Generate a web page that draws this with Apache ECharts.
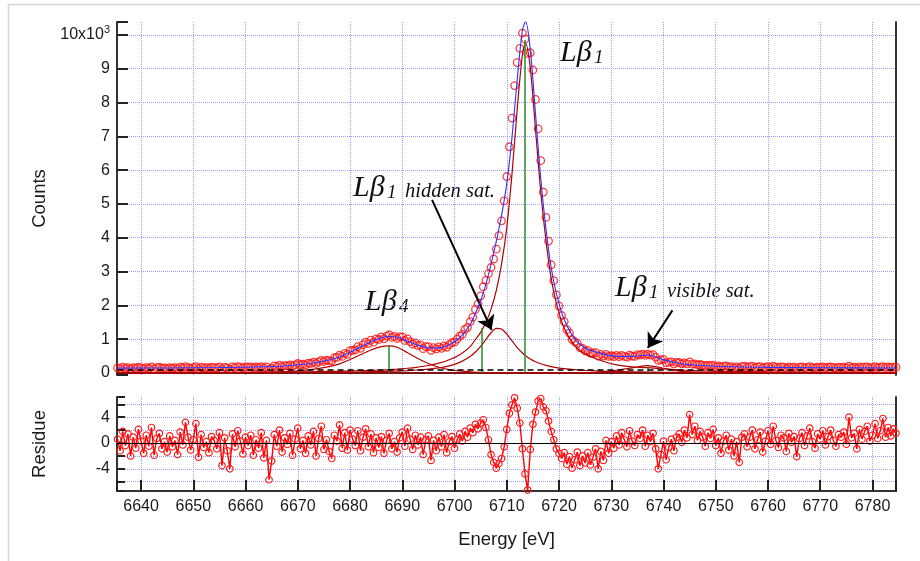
<!doctype html>
<html>
<head>
<meta charset="utf-8">
<title>L beta spectrum fit</title>
<script src="https://cdn.jsdelivr.net/npm/echarts@6.0.0/dist/echarts.min.js"></script>
</head>
<body style="margin:0; background:#fff">
<div id="container" style="width:920px; height:561px"></div>
<script>
// measured spectrum, 0.5 eV steps (counts in units of 10^3)
var energy = [
6635.5,6636,6636.5,6637,6637.5,6638,6638.5,6639,6639.5,6640,6640.5,6641,6641.5,6642,6642.5,6643,6643.5,6644,6644.5,6645,
6645.5,6646,6646.5,6647,6647.5,6648,6648.5,6649,6649.5,6650,6650.5,6651,6651.5,6652,6652.5,6653,6653.5,6654,6654.5,6655,
6655.5,6656,6656.5,6657,6657.5,6658,6658.5,6659,6659.5,6660,6660.5,6661,6661.5,6662,6662.5,6663,6663.5,6664,6664.5,6665,
6665.5,6666,6666.5,6667,6667.5,6668,6668.5,6669,6669.5,6670,6670.5,6671,6671.5,6672,6672.5,6673,6673.5,6674,6674.5,6675,
6675.5,6676,6676.5,6677,6677.5,6678,6678.5,6679,6679.5,6680,6680.5,6681,6681.5,6682,6682.5,6683,6683.5,6684,6684.5,6685,
6685.5,6686,6686.5,6687,6687.5,6688,6688.5,6689,6689.5,6690,6690.5,6691,6691.5,6692,6692.5,6693,6693.5,6694,6694.5,6695,
6695.5,6696,6696.5,6697,6697.5,6698,6698.5,6699,6699.5,6700,6700.5,6701,6701.5,6702,6702.5,6703,6703.5,6704,6704.5,6705,
6705.5,6706,6706.5,6707,6707.5,6708,6708.5,6709,6709.5,6710,6710.5,6711,6711.5,6712,6712.5,6713,6713.5,6714,6714.5,6715,
6715.5,6716,6716.5,6717,6717.5,6718,6718.5,6719,6719.5,6720,6720.5,6721,6721.5,6722,6722.5,6723,6723.5,6724,6724.5,6725,
6725.5,6726,6726.5,6727,6727.5,6728,6728.5,6729,6729.5,6730,6730.5,6731,6731.5,6732,6732.5,6733,6733.5,6734,6734.5,6735,
6735.5,6736,6736.5,6737,6737.5,6738,6738.5,6739,6739.5,6740,6740.5,6741,6741.5,6742,6742.5,6743,6743.5,6744,6744.5,6745,
6745.5,6746,6746.5,6747,6747.5,6748,6748.5,6749,6749.5,6750,6750.5,6751,6751.5,6752,6752.5,6753,6753.5,6754,6754.5,6755,
6755.5,6756,6756.5,6757,6757.5,6758,6758.5,6759,6759.5,6760,6760.5,6761,6761.5,6762,6762.5,6763,6763.5,6764,6764.5,6765,
6765.5,6766,6766.5,6767,6767.5,6768,6768.5,6769,6769.5,6770,6770.5,6771,6771.5,6772,6772.5,6773,6773.5,6774,6774.5,6775,
6775.5,6776,6776.5,6777,6777.5,6778,6778.5,6779,6779.5,6780,6780.5,6781,6781.5,6782,6782.5,6783,6783.5,6784,6784.5
];
var counts = [
.15,.13,.17,.14,.16,.12,.16,.14,.17,.15,.13,.16,.14,.18,.12,.16,.17,.14,.15,.13,
.16,.14,.16,.13,.17,.15,.19,.16,.14,.16,.19,.13,.17,.15,.16,.14,.17,.16,.15,.18,
.12,.17,.15,.11,.18,.16,.19,.17,.15,.18,.17,.18,.15,.18,.16,.19,.15,.18,.10,.14,
.21,.19,.23,.19,.22,.21,.24,.20,.24,.28,.24,.26,.24,.29,.28,.32,.28,.33,.37,.34,
.38,.36,.36,.45,.46,.53,.49,.58,.55,.66,.67,.68,.78,.73,.84,.91,.87,.97,.91,1.01,
.99,1.07,1.01,1.09,1.13,1.05,1.08,1.02,1.07,1.07,.96,1.01,.93,.85,.89,.81,.83,.72,.78,.78,
.67,.75,.71,.77,.73,.80,.76,.84,.90,.91,1.00,1.09,1.14,1.29,1.35,1.52,1.65,1.88,2.04,2.28,
2.55,2.74,2.94,3.12,3.37,3.66,4.06,4.50,5.09,5.81,6.69,7.54,8.50,9.18,9.60,10.05,9.88,9.45,9.47,8.96,
8.09,7.22,6.28,5.35,4.60,3.90,3.20,2.73,2.31,1.98,1.70,1.52,1.28,1.18,.99,.93,.88,.75,.73,.65,
.67,.59,.59,.60,.50,.55,.50,.55,.49,.51,.48,.52,.48,.52,.49,.47,.53,.50,.49,.54,
.53,.56,.52,.56,.53,.54,.47,.37,.39,.40,.30,.32,.33,.27,.31,.31,.27,.30,.27,.33,
.26,.27,.24,.25,.23,.21,.23,.22,.23,.19,.21,.17,.20,.21,.17,.19,.15,.18,.14,.19,
.20,.17,.19,.20,.16,.18,.19,.15,.17,.19,.16,.20,.17,.16,.18,.17,.14,.18,.16,.17,
.13,.17,.18,.15,.17,.19,.16,.15,.17,.16,.18,.15,.17,.18,.16,.15,.17,.16,.17,.15,
.20,.16,.17,.14,.18,.16,.17,.18,.15,.16,.19,.16,.17,.19,.16,.18,.16,.17,.17
];
var residue = [
0.6,-1.2,1.8,-0.4,1.4,-2.0,0.9,-0.8,2.1,0.3,-1.6,1.2,-0.5,2.4,-1.9,0.7,1.5,-0.9,0.2,-1.4,
1.1,-0.6,0.4,-1.8,1.7,-0.3,3.2,0.9,-1.1,0.5,3.0,-2.2,1.3,-0.7,0.2,-1.5,1.0,0.4,-0.9,1.6,
-3.5,0.8,-1.2,-4.0,1.4,-0.6,1.9,0.3,-1.7,0.9,-0.4,1.2,-1.9,0.5,-0.8,1.6,-2.3,0.4,-5.7,-2.8,
1.3,-0.5,2.0,-1.4,0.8,-0.2,1.5,-1.9,0.6,2.3,-0.9,0.4,-1.6,1.1,-0.3,1.8,-2.0,0.7,2.6,-1.0,
0.5,-1.3,-2.4,1.2,0.3,2.8,-0.8,1.6,-1.1,2.0,0.6,-0.4,1.9,-1.2,0.9,2.2,-0.6,1.4,-1.5,0.8,
-0.7,1.0,-1.6,0.4,1.5,-0.9,0.2,-1.4,0.8,1.7,-0.5,2.3,0.6,-1.0,1.2,-0.3,0.9,-1.8,0.5,1.1,
-2.7,0.4,-1.2,0.9,-0.6,1.3,-1.5,0.2,1.0,-0.8,0.5,1.4,0.3,1.8,0.9,2.3,1.6,2.9,2.2,3.1,
3.6,2.4,0.5,-1.8,-3.0,-3.9,-3.2,-2.4,-0.6,2.1,4.6,5.9,7.0,5.4,3.1,-0.9,-4.8,-7.3,-1.0,2.9,
4.8,6.5,6.9,5.6,5.0,3.4,1.8,0.5,-0.9,-1.6,-2.4,-1.5,-3.3,-2.1,-3.9,-2.6,-1.4,-3.5,-2.0,-3.1,
-1.5,-3.4,-2.2,-0.9,-4.0,-1.3,-2.7,0.4,-1.6,0.2,-0.8,1.1,-0.3,1.6,0.5,-0.6,1.9,0.3,-0.4,1.3,
0.7,2.0,-0.5,1.2,0.2,1.5,-0.9,-4.0,-1.8,0.3,-2.6,-0.7,0.6,-1.2,0.9,1.4,0.1,2.0,0.8,4.4,
1.3,2.6,0.4,1.8,0.9,-0.5,1.6,0.7,2.1,-0.4,0.8,-1.6,0.3,1.2,-1.1,0.6,-2.0,0.2,-3.0,0.9,
1.4,-0.6,0.9,2.0,-0.9,0.5,1.7,-1.4,0.3,1.9,-0.2,2.6,0.4,-0.7,1.2,0.8,-1.3,1.5,0.1,1.0,
-2.1,0.7,1.6,-0.4,1.1,2.3,0.2,-0.8,1.4,0.6,1.9,-0.3,1.0,2.0,0.4,-0.5,1.3,0.9,1.7,-0.2,
4.0,0.8,1.5,-0.9,2.1,0.6,1.8,2.6,0.3,1.2,3.0,0.7,1.9,3.8,0.9,2.4,1.1,2.2,1.5
];

// fit curve and its components
var compE = [6635.5,6645,6655,6662,6668,6672,6676,6678,6680,6682,6684,6686,6687.5,6689,6691,6693,6695,6697,6699,6701,
  6703,6704,6705,6706,6707,6708,6709,6710,6711,6712,6713,6713.6,6714.5,6715.5,6716.5,6717.5,6718.5,6719.5,6721,6723,
  6725,6728,6731,6734,6737,6740,6744,6750,6760,6770,6784.5];
var fitTotal = [.144,.149,.161,.175,.214,.273,.386,.474,.614,.766,.922,1.041,1.079,1.062,.94,.823,.744,.742,.832,1.042,
  1.432,1.764,2.136,2.623,3.22,3.898,4.656,5.6,6.96,8.68,10.14,10.39,9.57,7.67,5.76,4.27,3.12,2.35,1.58,1.01,
  .74,.58,.49,.49,.53,.39,.26,.20,.166,.154,.145];
var compMain = [.010,.013,.018,.023,.030,.036,.045,.050,.057,.065,.075,.088,.100,.115,.14,.175,.22,.29,.39,.54,
  .78,.99,1.20,1.49,1.89,2.44,3.22,4.30,5.88,7.80,9.42,9.75,9.03,7.21,5.36,3.92,2.80,2.06,1.32,.81,
  .56,.37,.24,.18,.16,.12,.08,.05,.03,.02,.012];
var compHidden = [.004,.0055,.008,.010,.014,.017,.021,.024,.027,.031,.037,.043,.049,.057,.07,.088,.114,.152,.212,.312,
  .487,.619,.788,.99,1.19,1.32,1.30,1.15,.95,.75,.59,.51,.414,.333,.271,.224,.188,.16,.127,.097,
  .076,.056,.042,.033,.027,.022,.017,.013,.008,.006,.004];
var compB4 = [0,0,.005,.012,.04,.09,.19,.27,.40,.54,.68,.78,.80,.76,.60,.43,.28,.17,.10,.06,
  .035,.025,.018,.013,.01,.008,.006,.005,.004,.003,.002,.002,.001,0,0,0,0,0,0,0,
  0,0,0,0,0,0,0,0,0,0,0];
var compVisible = [0,0,0,0,0,0,0,0,0,0,0,0,0,0,0,0,0,0,0,0,
  0,0,0,0,0,0,0,0,0,0,0,0,0,0,0,0,0,0,0,0,
  .005,.03,.08,.15,.22,.14,.04,.01,0,0,0];
var baseE = [6635.5, 6784.5];
var baseC = [0.09, 0.09];

// line positions (sticks) and arrows
var stickE = [6687.5, 6705.2, 6713.5, 6737.0];
var stickH = [0.80, 1.33, 9.85, 0.20];
var arrowFrom = [[6695.7, 5.12], [6741.7, 1.85]];
var arrowTo = [[6707.1, 1.27], [6737.0, 0.74]];

function pairs(xs, ys) {
  return xs.map(function (x, i) { return [x, ys[i]]; });
}

var sans = '"Liberation Sans", Arial, sans-serif';
var serif = '"Liberation Serif", "Times New Roman", serif';
var gridLine = { show: true, showMinLine: false, showMaxLine: false,
  lineStyle: { color: '#9a9aff', type: 'dotted', width: 1 } };
var frameLine = { show: true, lineStyle: { color: '#333', width: 2 } };
var compColor = '#b40000';

var dom = document.getElementById('container');
var myChart = echarts.init(dom, null, { renderer: 'canvas' });

function compSeries(vals) {
  return {
    type: 'line', xAxisIndex: 0, yAxisIndex: 0,
    data: pairs(compE, vals), showSymbol: false, smooth: 0.3,
    lineStyle: { color: compColor, width: 1.2 }, silent: true, z: 4
  };
}

var sticks = stickE.map(function (e, i) {
  return [{ coord: [e, 0] }, { coord: [e, stickH[i]] }];
});
var arrows = arrowFrom.map(function (p, i) {
  return [{ coord: p }, { coord: arrowTo[i] }];
});

function betaText(x, base, sub, tail) {
  var els = [
    { type: 'text', x: x, y: base - 10, silent: true,
      style: { text: 'Lβ', font: 'italic 30px ' + serif, fill: '#111', verticalAlign: 'middle' } },
    { type: 'text', x: x + 34, y: base - 5, silent: true,
      style: { text: sub, font: 'italic 19px ' + serif, fill: '#111', verticalAlign: 'middle' } }
  ];
  if (tail) {
    els.push({ type: 'text', x: x + 52, y: base - 6, silent: true,
      style: { text: tail, font: 'italic 20.5px ' + serif, fill: '#111', verticalAlign: 'middle' } });
  }
  return els;
}

var option = {
  animation: false,
  backgroundColor: '#fff',
  grid: [
    { left: 117, top: 22, width: 779, height: 353 },
    { left: 117, top: 397, width: 779, height: 94 }
  ],
  xAxis: [
    { type: 'value', gridIndex: 0, min: 6635.4, max: 6784.5, splitNumber: 15,
      axisLine: { show: false }, axisTick: { show: false }, axisLabel: { show: false },
      splitLine: gridLine },
    { type: 'value', gridIndex: 0, position: 'top', min: 6635.4, max: 6784.5,
      axisLine: frameLine, axisTick: { show: false }, axisLabel: { show: false }, splitLine: { show: false } },
    { type: 'value', gridIndex: 1, min: 6635.4, max: 6784.5, splitNumber: 15,
      axisLine: { show: true, onZero: false, lineStyle: { color: '#333', width: 2 } },
      axisTick: { show: true, inside: true, length: 11, lineStyle: { color: '#222', width: 2 } },
      axisLabel: { margin: 8, fontFamily: sans, fontSize: 16, color: '#1a1a1a',
        formatter: function (v) { return Math.abs(v % 10) < 1e-6 ? String(v) : ''; } },
      splitLine: gridLine,
      name: 'Energy [eV]', nameLocation: 'middle', nameGap: 39,
      nameTextStyle: { fontFamily: sans, fontSize: 18.5, color: '#1a1a1a' } }
  ],
  yAxis: [
    { type: 'value', gridIndex: 0, min: -0.06, max: 10.38, splitNumber: 10,
      axisLine: { show: true, onZero: false, lineStyle: { color: '#333', width: 2 } },
      axisTick: { show: true, inside: true, length: 11, lineStyle: { color: '#222', width: 2 } },
      axisLabel: { margin: 7, fontFamily: sans, fontSize: 16, color: '#1a1a1a',
        formatter: function (v) {
          if (Math.abs(v - 10) < 1e-6) return '10x10{s|3}';
          if (v > -0.01 && v < 9.99 && Math.abs(v - Math.round(v)) < 1e-6) return String(Math.round(v));
          return '';
        },
        rich: { s: { fontFamily: sans, fontSize: 11, color: '#1a1a1a', padding: [0, 0, 9, 0] } } },
      splitLine: gridLine,
      name: 'Counts', nameLocation: 'middle', nameGap: 68, nameRotate: 90,
      nameTextStyle: { fontFamily: sans, fontSize: 18.5, color: '#1a1a1a' } },
    { type: 'value', gridIndex: 0, position: 'right', min: -0.06, max: 10.38,
      axisLine: frameLine, axisTick: { show: false }, axisLabel: { show: false }, splitLine: { show: false } },
    { type: 'value', gridIndex: 1, min: -7.44, max: 7.13, splitNumber: 7,
      axisLine: { show: true, onZero: false, lineStyle: { color: '#333', width: 2 } },
      axisTick: { show: true, inside: true, length: 8, lineStyle: { color: '#222', width: 2 } },
      axisLabel: { margin: 7, fontFamily: sans, fontSize: 16, color: '#1a1a1a',
        formatter: function (v) {
          return (Math.abs(v - 4) < 1e-6 || Math.abs(v) < 1e-6 || Math.abs(v + 4) < 1e-6) ? String(Math.round(v)) : '';
        } },
      splitLine: gridLine,
      name: 'Residue', nameLocation: 'middle', nameGap: 68, nameRotate: 90,
      nameTextStyle: { fontFamily: sans, fontSize: 18.5, color: '#1a1a1a' } },
    { type: 'value', gridIndex: 1, position: 'right', min: -7.44, max: 7.13,
      axisLine: frameLine, axisTick: { show: false }, axisLabel: { show: false }, splitLine: { show: false } }
  ],
  series: [
    { name: 'data', type: 'scatter', xAxisIndex: 0, yAxisIndex: 0,
      data: pairs(energy, counts), symbol: 'circle', symbolSize: 7.5, silent: true, z: 2,
      itemStyle: { color: 'rgba(255,0,0,0)', borderColor: '#ff1010', borderWidth: 1.3 } },
    { name: 'fit', type: 'line', xAxisIndex: 0, yAxisIndex: 0,
      data: pairs(compE, fitTotal), showSymbol: false, smooth: 0.3, silent: true, z: 5,
      lineStyle: { color: '#3030ff', width: 1.1 } },
    compSeries(compMain),
    compSeries(compHidden),
    compSeries(compB4),
    compSeries(compVisible),
    { name: 'baseline', type: 'line', xAxisIndex: 0, yAxisIndex: 0,
      data: pairs(baseE, baseC), showSymbol: false, silent: true, z: 6,
      lineStyle: { color: '#000', width: 1.5, type: [6, 4] } },
    { name: 'marks', type: 'line', xAxisIndex: 0, yAxisIndex: 0, data: [], z: 7,
      markLine: { silent: true, animation: false, symbol: ['none', 'none'], label: { show: false },
        lineStyle: { color: '#2a8a2a', width: 1.5, type: 'solid' }, data: sticks } },
    { name: 'arrows', type: 'line', xAxisIndex: 0, yAxisIndex: 0, data: [], z: 8,
      markLine: { silent: true, animation: false, symbol: ['none', 'arrow'], symbolSize: 14,
        label: { show: false }, lineStyle: { color: '#000', width: 2, type: 'solid' }, data: arrows } },
    { name: 'residue', type: 'line', xAxisIndex: 2, yAxisIndex: 2,
      data: pairs(energy, residue), symbol: 'circle', symbolSize: 6.5, showSymbol: true, silent: true,
      lineStyle: { color: '#ff0000', width: 1.4 },
      itemStyle: { color: 'rgba(255,0,0,0)', borderColor: '#ff1a1a', borderWidth: 1.2 },
      markLine: { silent: true, animation: false, symbol: ['none', 'none'], label: { show: false },
        lineStyle: { color: '#000', width: 1, type: 'solid' }, data: [{ yAxis: 0 }] } }
  ],
  graphic: [
    { type: 'rect', silent: true, shape: { x: 8.5, y: 4.5, width: 940, height: 600 },
      style: { fill: 'none', stroke: '#d6d6d6', lineWidth: 1.5 } }
  ].concat(
    betaText(560, 63, '1'),
    betaText(353, 198, '1', 'hidden sat.'),
    betaText(365, 312, '4'),
    betaText(615, 298, '1', 'visible sat.')
  )
};

if (option && typeof option === 'object') {
  myChart.setOption(option, true);
}
</script>
</body>
</html>
